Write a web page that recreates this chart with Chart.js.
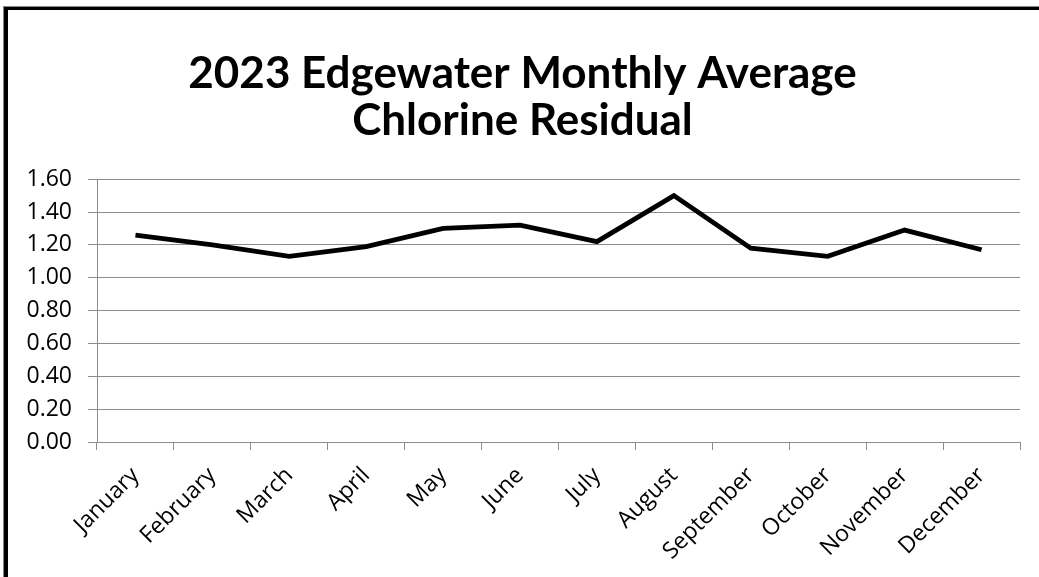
<!DOCTYPE html>
<html>
<head>
<meta charset="utf-8">
<script src="https://cdn.jsdelivr.net/npm/chart.js@4"></script>
<style>
    html, body { margin: 0; padding: 0; background: #fff; overflow: hidden; }
    #wrap { position: absolute; left: 0; top: 0; width: 1039px; height: 577px; }
    #frame {
        position: absolute; left: 4px; top: 7px; width: 1100px; height: 640px;
        border-left: 4px solid #000; border-top: 3px solid #000;
        box-shadow: -1px -1px 0 #888;
    }
    canvas { position: absolute; left: 0; top: 0; }
</style>
</head>
<body>
<div id="wrap">
    <div id="frame"></div>
    <canvas id="chart" width="1039" height="577"></canvas>
</div>
<script>
const months = ['January', 'February', 'March', 'April', 'May', 'June',
    'July', 'August', 'September', 'October', 'November', 'December'];
const chlorine = [1.26, 1.20, 1.13, 1.19, 1.30, 1.32, 1.22, 1.50, 1.18, 1.13, 1.29, 1.17];
const titleLines = ['2023 Edgewater Monthly Average', 'Chlorine Residual'];

const gridGrey = '#8c8c8c';
const tickFont = { family: '"Open Sans", sans-serif', size: 23 };

const ctx = document.getElementById('chart').getContext('2d');
new Chart(ctx, {
    type: 'line',
    data: {
        labels: months,
        datasets: [{
            label: 'Chlorine Residual',
            data: chlorine,
            borderColor: '#000',
            borderWidth: 4.8,
            pointRadius: 0,
            tension: 0,
            borderJoinStyle: 'miter'
        }]
    },
    options: {
        responsive: false,
        animation: false,
        layout: { padding: { left: 25, right: 19, top: 0, bottom: 0 } },
        plugins: {
            legend: { display: false },
            tooltip: { enabled: false },
            title: {
                display: true,
                text: titleLines,
                color: '#000',
                font: { family: 'Lato, sans-serif', size: 44, weight: 'bold', lineHeight: 1.07 },
                padding: { top: 50, bottom: 35 }
            }
        },
        scales: {
            x: {
                offset: true,
                grid: {
                    offset: true,
                    drawOnChartArea: false,
                    drawTicks: true,
                    tickLength: 8,
                    color: gridGrey
                },
                border: { color: gridGrey, width: 1 },
                ticks: {
                    autoSkip: false,
                    minRotation: 45,
                    maxRotation: 45,
                    padding: 12,
                    color: '#000',
                    font: tickFont
                },
                // rotated labels would push the plot to the right, keep it fixed
                afterFit: function (scale) {
                    scale.height = 135;
                    scale.paddingLeft = 0;
                    scale.paddingRight = 0;
                }
            },
            y: {
                min: 0,
                max: 1.6,
                grid: { color: gridGrey, tickLength: 9 },
                border: { color: gridGrey, width: 1 },
                ticks: {
                    stepSize: 0.2,
                    padding: 16,
                    color: '#000',
                    font: tickFont,
                    callback: function (value) { return value.toFixed(2); }
                },
                afterFit: function (scale) {
                    scale.width = 72;
                    scale.paddingTop = 0;
                }
            }
        }
    }
});
</script>
</body>
</html>
